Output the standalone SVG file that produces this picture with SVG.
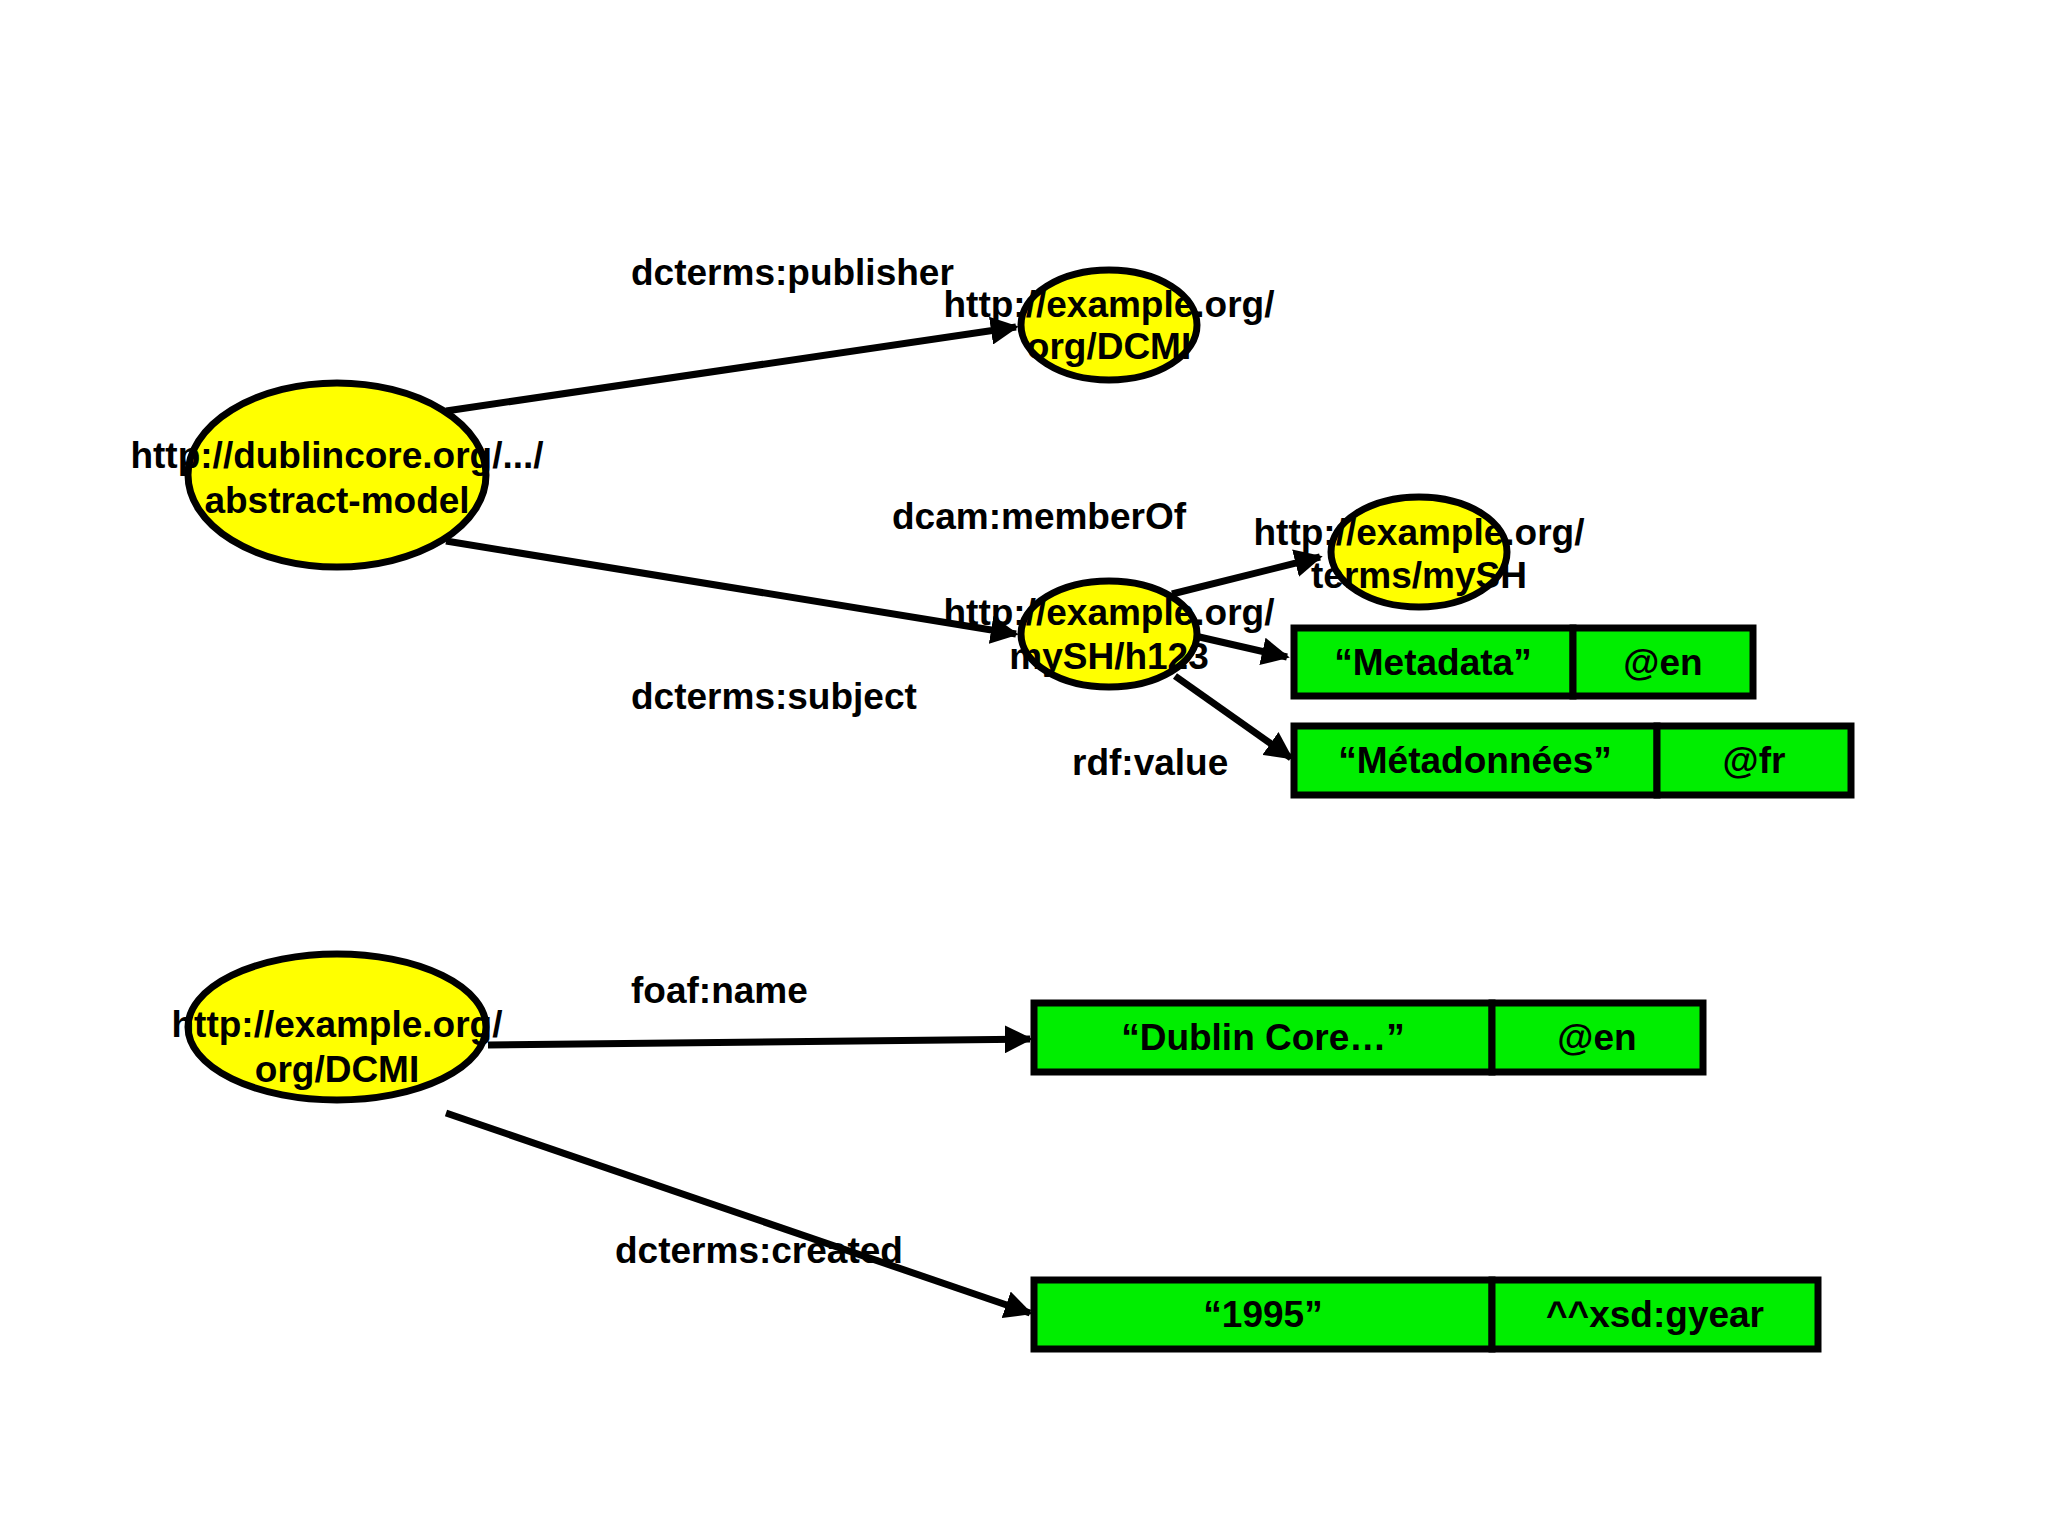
<svg xmlns="http://www.w3.org/2000/svg" width="2048" height="1536" viewBox="0 0 2048 1536">
<defs>
<marker id="ah" viewBox="0 0 10 10" refX="9" refY="5" markerWidth="4" markerHeight="4" orient="auto" markerUnits="strokeWidth"><path d="M0,0 L10,5 L0,10 z" fill="#000"/></marker>
<style>
.n{fill:#ffff00;stroke:#000;stroke-width:7}
.b{fill:#00ee00;stroke:#000;stroke-width:7}
.c{stroke:#000;stroke-width:7;fill:none;marker-end:url(#ah)}
text{font-family:"Liberation Sans",Arial,sans-serif;font-weight:bold;font-size:37px;fill:#000;dominant-baseline:central}
.m{text-anchor:middle}
</style>
</defs>
<rect width="2048" height="1536" fill="#fff"/>
<g id="connectors">
<line class="c" x1="446" y1="411" x2="1016" y2="327"/>
<line class="c" x1="446" y1="541" x2="1016" y2="634"/>
<line class="c" x1="1172" y1="594" x2="1320" y2="557"/>
<line class="c" x1="1195" y1="636" x2="1287" y2="657"/>
<line class="c" x1="1175" y1="676" x2="1291" y2="758"/>
<line class="c" x1="488" y1="1045" x2="1030" y2="1039"/>
<line class="c" x1="446" y1="1113" x2="1030" y2="1313"/>
<text x="631" y="272">dcterms:publisher</text>
<text x="892" y="516">dcam:memberOf</text>
<text x="631" y="696">dcterms:subject</text>
<text x="1072" y="762">rdf:value</text>
<text x="631" y="990">foaf:name</text>
<text x="615" y="1250">dcterms:created</text>
</g>
<g id="nodeA"><ellipse class="n" cx="337" cy="475" rx="149" ry="92"/><text class="m" x="337" y="455">http://dublincore.org/.../</text><text class="m" x="337" y="500">abstract-model</text></g>
<g id="nodeB"><ellipse class="n" cx="1109" cy="325" rx="88" ry="55"/><text class="m" x="1109" y="304">http://example.org/</text><text class="m" x="1109" y="346">org/DCMI</text></g>
<g id="nodeC"><ellipse class="n" cx="1109" cy="634" rx="88" ry="53"/><text class="m" x="1109" y="612">http://example.org/</text><text class="m" x="1109" y="656">mySH/h123</text></g>
<g id="nodeD"><ellipse class="n" cx="1419" cy="552" rx="88" ry="55"/><text class="m" x="1419" y="532">http://example.org/</text><text class="m" x="1419" y="575">terms/mySH</text></g>
<g id="nodeE"><ellipse class="n" cx="337" cy="1027" rx="149" ry="73"/><text class="m" x="337" y="1024">http://example.org/</text><text class="m" x="337" y="1069">org/DCMI</text></g>
<g id="lit1"><rect class="b" x="1294" y="628" width="279" height="68"/><rect class="b" x="1573" y="628" width="180" height="68"/><text class="m" x="1433" y="662">“Metadata”</text><text class="m" x="1663" y="662">@en</text></g>
<g id="lit2"><rect class="b" x="1294" y="726" width="363" height="69"/><rect class="b" x="1657" y="726" width="194" height="69"/><text class="m" x="1475" y="760">“Métadonnées”</text><text class="m" x="1754" y="760">@fr</text></g>
<g id="lit3"><rect class="b" x="1034" y="1003" width="458" height="69"/><rect class="b" x="1492" y="1003" width="211" height="69"/><text class="m" x="1263" y="1037">“Dublin Core…”</text><text class="m" x="1597" y="1037">@en</text></g>
<g id="lit4"><rect class="b" x="1034" y="1280" width="458" height="69"/><rect class="b" x="1492" y="1280" width="326" height="69"/><text class="m" x="1263" y="1314">“1995”</text><text class="m" x="1655" y="1314">^^xsd:gyear</text></g>
</svg>
